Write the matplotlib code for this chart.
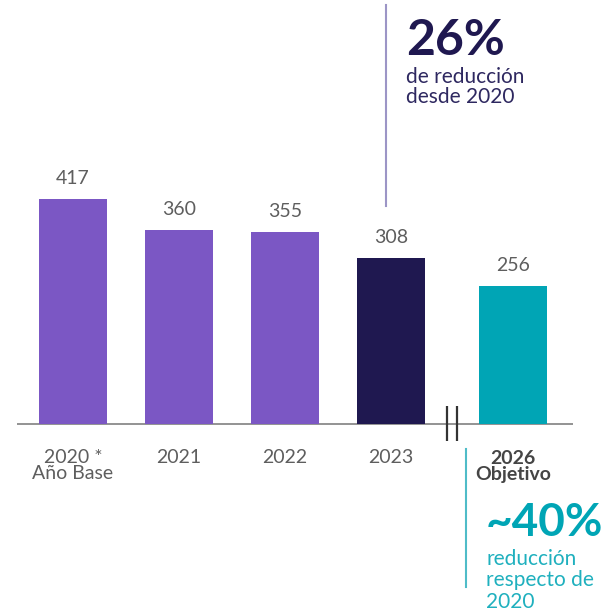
import matplotlib.pyplot as plt

plt.rcParams['font.family'] = ['Lato', 'DejaVu Sans']

# emisiones por año (valores rotulados sobre cada barra)
years = ['2020 *\nAño Base', '2021', '2022', '2023']
values = [417, 360, 355, 308]
target_label = '2026\nObjetivo'
target_value = 256
xpos = [0, 1, 2, 3]
target_x = 4.15

purple = '#7B57C4'
navy = '#1F1850'
teal = '#00A5B5'
grey = '#5E5E5E'

W, H = 607, 613
fig = plt.figure(figsize=(W / 100, H / 100), dpi=100)
ax = fig.add_axes((0, 0, 1, 1))
ax.axis('off')

# 106 px entre barras, base en y=424 px
scale = 0.54
ax.set_xlim(-73 / 106, (W - 73) / 106)
ax.set_ylim(-(H - 424) / scale, 424 / scale)


def px(x, y):
    return (x / W, 1 - y / H)


colors = [purple, purple, purple, navy]
bars = ax.bar(xpos, values, width=0.64, color=colors, zorder=2)
tbar = ax.bar([target_x], [target_value], width=0.64, color=teal, zorder=2)

for b, v in zip(list(bars) + list(tbar), values + [target_value]):
    ax.annotate(str(v), (b.get_x() + b.get_width() / 2, v), xytext=(0, 12),
                textcoords='offset pixels', ha='center', va='bottom',
                fontsize=14, color=grey)

# eje base y marca de corte
ax.hlines(0, (17 - 73) / 106, (573 - 73) / 106, color='#8a8a8a', lw=1.3, zorder=1)
for bx in (447, 457):
    ax.vlines((bx - 73) / 106, -17 / scale, 18 / scale, color='#333333', lw=1.6, zorder=3)

# etiquetas de años
for x, lab in zip(xpos, years):
    ax.text(x, -25 / scale, lab, ha='center', va='top', fontsize=14,
            color=grey, linespacing=0.95)
ax.text(target_x, -26 / scale, target_label, ha='center', va='top',
        fontsize=14, fontweight='bold', color='#454545', linespacing=0.95)

# nota de reducción actual
ax.plot(*zip(px(386, 5), px(386, 206)), transform=ax.transAxes,
        color='#9C95C6', lw=1.5)
ax.text(*px(406, 55), '26%', transform=ax.transAxes, fontsize=36,
        fontweight='bold', color=navy, va='baseline')
ax.text(*px(406, 83), 'de reducción', transform=ax.transAxes, fontsize=15,
        color='#2E2860', va='baseline')
ax.text(*px(406, 103), 'desde 2020', transform=ax.transAxes, fontsize=15,
        color='#2E2860', va='baseline')

# nota del objetivo
ax.plot(*zip(px(466, 449), px(466, 587)), transform=ax.transAxes,
        color='#4FBCC8', lw=1.5)
ax.text(*px(486, 536), '~40%', transform=ax.transAxes, fontsize=33,
        fontweight='bold', color=teal, va='baseline')
for i, line in enumerate(['reducción', 'respecto de', '2020']):
    ax.text(*px(486, 565 + 21.5 * i), line, transform=ax.transAxes,
            fontsize=15, color='#1FB0BE', va='baseline')

fig.savefig('out.png', dpi=100)
